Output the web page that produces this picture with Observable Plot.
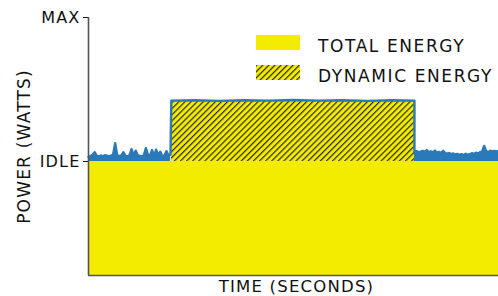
<!DOCTYPE html>
<html><head><meta charset="utf-8">
<script src="https://cdn.jsdelivr.net/npm/d3@7"></script>
<script src="https://cdn.jsdelivr.net/npm/@observablehq/plot@0.6"></script>
<style>
body{margin:0;background:#fff;}
#wrap{position:relative;width:498px;height:296px;font-family:"DejaVu Sans",sans-serif;color:#111;}
#wrap svg.plot{position:absolute;left:0;top:0;}
.sw{position:absolute;left:256px;width:44px;height:15px;}
.lt{position:absolute;left:318px;font-size:17px;letter-spacing:1.6px;line-height:20px;white-space:nowrap;}
</style></head><body><div id="wrap"></div>
<script>
// ---- data ----
const timeDomain = [0, 100];
const powerDomain = [0, 100];
const maxLevel = 100;
const idleLevel = 44.2;
const activeLevel = 67.8;
const activeStart = 20.2;
const activeEnd = 79.5;
const tickValues = [idleLevel, maxLevel];
const tickLabels = ["IDLE", "MAX"];
const legendLabels = ["TOTAL ENERGY", "DYNAMIC ENERGY"];
const sampleStep = 0.5;
const idleBeforeStart = 0;
const idleBefore = [46.0,46.3,46.8,47.8,46.4,46.2,46.5,46.3,46.6,46.4,46.2,46.5,46.8,51.3,46.6,46.3,46.5,47.8,46.4,46.2,46.6,49.0,46.5,48.4,46.7,46.3,46.2,46.6,49.4,46.8,46.5,48.6,46.4,48.8,46.6,48.0,46.3,46.5,48.2,46.6,46.8];
const activeTimes = [20.2, 26, 32, 38, 44, 50, 56, 62, 68, 74, 79.5];
const activeValues = [67.8, 67.9, 67.7, 67.9, 67.8, 68.0, 67.8, 67.9, 67.7, 67.9, 67.8];
const idleAfterStart = 79.5;
const idleAfter = [48.0,48.2,47.8,48.0,48.3,47.9,48.6,47.8,48.1,47.7,48.4,47.6,47.9,47.5,48.3,47.4,47.2,47.5,47.0,47.3,46.9,47.1,46.8,47.0,46.7,47.2,46.8,47.0,47.4,47.1,47.6,47.3,47.8,48.0,50.2,48.2,47.8,48.4,48.0,48.3,48.1,48.2];

const yellow = "#f3ec00";
const blue = "#2a79b8";
const axisGray = "#555";

// ---- build series ----
const before = idleBefore.map((p, i) => ({t: idleBeforeStart + i * sampleStep, p, phase: "idle1"}));
const active = activeTimes.map((t, i) => ({t, p: activeValues[i], phase: "active"}));
const after = idleAfter.map((p, i) => ({t: idleAfterStart + i * sampleStep, p, phase: "idle2"}));
const series = [...before, ...active, ...after];
const idleSeries = [...before, ...after];
const basePeriod = [{start: timeDomain[0], end: timeDomain[1], level: idleLevel}];
const activePeriod = [{start: activeStart, end: activeEnd, level: activeLevel}];

const chart = Plot.plot({
  width: 498, height: 296,
  marginLeft: 88, marginRight: 0, marginTop: 17, marginBottom: 21,
  style: {fontFamily: "DejaVu Sans, sans-serif", fontSize: "16px", letterSpacing: "1.2px", color: "#111", background: "transparent"},
  x: {domain: timeDomain, axis: null},
  y: {domain: powerDomain, ticks: tickValues, tickFormat: d => tickLabels[tickValues.indexOf(d)], tickSize: 5, tickPadding: 3, label: null},
  marks: [
    Plot.rect(basePeriod, {x1: "start", x2: "end", y1: 0, y2: "level", fill: yellow}),
    Plot.rect(activePeriod, {x1: "start", x2: "end", y1: idleLevel, y2: "level", fill: "url(#hatch)"}),
    Plot.areaY(idleSeries, {x: "t", y1: idleLevel, y2: "p", z: "phase", fill: blue, curve: "linear"}),
    Plot.lineY(series, {x: "t", y: "p", stroke: blue, strokeWidth: 2.4, curve: "linear"}),
    Plot.ruleX([timeDomain[0]], {stroke: axisGray, strokeWidth: 1.6}),
    Plot.ruleY([powerDomain[0]], {stroke: axisGray, strokeWidth: 1.6}),
    Plot.text(["POWER (WATTS)"], {frameAnchor: "left", textAnchor: "middle", lineAnchor: "middle", rotate: -90, dx: -64, fontSize: 17, text: d => d}),
    Plot.text(["TIME (SECONDS)"], {frameAnchor: "bottom", textAnchor: "middle", lineAnchor: "middle", dx: 3, dy: 11.5, fontSize: 16.5, text: d => d})
  ]
});
chart.classList.add("plot");

const ns = "http://www.w3.org/2000/svg";
function makePattern(id) {
  const defs = document.createElementNS(ns, "defs");
  defs.innerHTML = `<pattern id="${id}" patternUnits="userSpaceOnUse" width="4.3" height="4.3" patternTransform="rotate(45)">
    <rect width="4.3" height="4.3" fill="${yellow}"/>
    <line x1="0.6" y1="0" x2="0.6" y2="4.3" stroke="#2b2a10" stroke-width="1.2"/>
  </pattern>`;
  return defs;
}
chart.insertBefore(makePattern("hatch"), chart.firstChild);

const wrap = document.getElementById("wrap");
wrap.appendChild(chart);

// legend
const sw1 = document.createElement("div");
sw1.className = "sw"; sw1.style.top = "35px"; sw1.style.background = yellow;
wrap.appendChild(sw1);
const sw2 = document.createElementNS(ns, "svg");
sw2.setAttribute("class", "sw"); sw2.setAttribute("width", 44); sw2.setAttribute("height", 15);
sw2.style.top = "65px";
sw2.appendChild(makePattern("hatch2"));
const r = document.createElementNS(ns, "rect");
r.setAttribute("width", 44); r.setAttribute("height", 15); r.setAttribute("fill", "url(#hatch2)");
sw2.appendChild(r);
wrap.appendChild(sw2);
legendLabels.forEach((label, i) => {
  const t = document.createElement("div");
  t.className = "lt"; t.textContent = label; t.style.top = (36 + i * 30) + "px";
  wrap.appendChild(t);
});
</script></body></html>
